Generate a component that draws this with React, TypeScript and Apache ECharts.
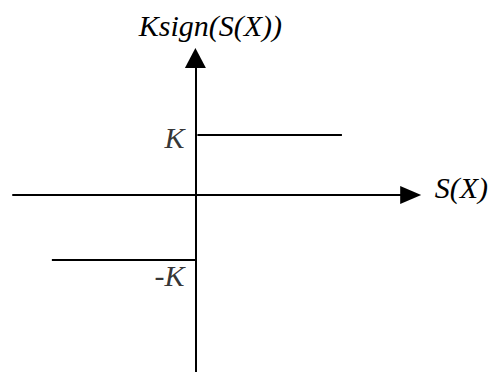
import React, { useEffect, useRef } from "react";
import * as echarts from "echarts";

// Step function Ksign(S(X)) — values in axis units (origin at the crossing)
const upperSegmentX = [2, 147];
const upperLevel = [60, 60];
const lowerSegmentX = [-144, 0];
const lowerLevel = [-65, -65];
const levelLabels = ["K", "-K"];
const levelValues = [60, -65];
const xAxisName = "S(X)";
const yAxisName = "Ksign(S(X))";

const FONT = '"Times New Roman", "Liberation Serif", serif';

export default function App() {
  const ref = useRef<HTMLDivElement>(null);
  useEffect(() => {
    if (!ref.current) return;
    const chart = echarts.init(ref.current, null, { renderer: "svg" });
    const lineStyle = { color: "#000", width: 2 };
    chart.setOption({
      animation: false,
      backgroundColor: "#fff",
      grid: { left: 13, right: 79, top: 58, bottom: 0 },
      xAxis: {
        type: "value",
        min: -183,
        max: 216,
        name: xAxisName,
        nameLocation: "end",
        nameGap: 24,
        nameTextStyle: {
          fontFamily: FONT,
          fontStyle: "italic",
          fontSize: 30,
          color: "#000",
          verticalAlign: "bottom",
          lineHeight: 16,
        },
        axisLine: {
          onZero: true,
          lineStyle,
          symbol: ["none", "triangle"],
          symbolSize: [18, 21],
        },
        axisTick: { show: false },
        axisLabel: { show: false },
        splitLine: { show: false },
      },
      yAxis: {
        type: "value",
        min: -177,
        max: 137,
        name: yAxisName,
        nameLocation: "end",
        nameGap: 18,
        nameTextStyle: {
          fontFamily: FONT,
          fontStyle: "italic",
          fontSize: 30,
          color: "#000",
          padding: [0, 0, 0, 30],
        },
        axisLine: {
          onZero: true,
          lineStyle,
          symbol: ["none", "triangle"],
          symbolSize: [21, 20],
        },
        axisTick: { show: false },
        axisLabel: { show: false },
        splitLine: { show: false },
      },
      series: [
        {
          type: "line",
          data: upperSegmentX.map((x, i) => [x, upperLevel[i]]),
          symbol: "none",
          lineStyle,
          silent: true,
        },
        {
          type: "line",
          data: lowerSegmentX.map((x, i) => [x, lowerLevel[i]]),
          symbol: "none",
          lineStyle,
          silent: true,
        },
        {
          type: "scatter",
          symbolSize: 0,
          silent: true,
          data: levelValues.map((v, i) => ({
            value: [0, v],
            label: {
              show: true,
              position: "left",
              distance: 11,
              offset: i === 0 ? [0, 2] : [0, 15],
              formatter: levelLabels[i],
              fontFamily: FONT,
              fontStyle: "italic",
              fontSize: 30,
              color: "#000",
            },
          })),
        },
      ],
    });
    return () => chart.dispose();
  }, []);
  return (
    <div
      ref={ref}
      style={{ position: "fixed", left: 0, top: 0, width: 491, height: 372 }}
    />
  );
}
